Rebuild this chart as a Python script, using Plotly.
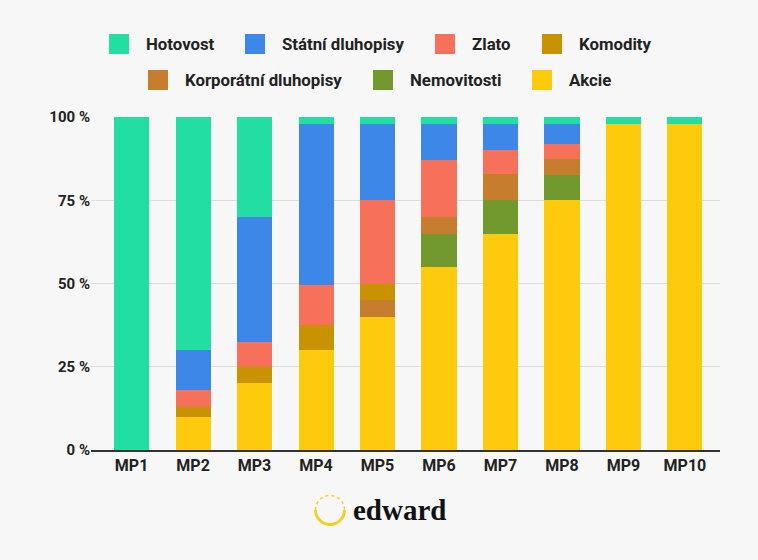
import plotly.graph_objects as go

categories = ["MP1", "MP2", "MP3", "MP4", "MP5", "MP6", "MP7", "MP8", "MP9", "MP10"]

akcie       = [0, 10, 20, 30, 40, 55, 65, 75, 98, 98]
nemovitosti = [0, 0, 0, 0, 0, 10, 10, 7.5, 0, 0]
korporatni  = [0, 0, 0, 0, 5, 5, 8, 5, 0, 0]
komodity    = [0, 3, 5, 7.5, 5, 0, 0, 0, 0, 0]
zlato       = [0, 5, 7.5, 12, 25, 17, 7, 4.5, 0, 0]
statni      = [0, 12, 37.5, 48.5, 23, 11, 8, 6, 0, 0]
hotovost    = [100, 70, 30, 2, 2, 2, 2, 2, 2, 2]

series_names = ["Akcie", "Nemovitosti", "Korporátní dluhopisy", "Komodity",
                "Zlato", "Státní dluhopisy", "Hotovost"]
series_values = [akcie, nemovitosti, korporatni, komodity, zlato, statni, hotovost]
series_colors = ["#fdca0c", "#72992e", "#c77d2e", "#c89200",
                 "#f6705a", "#3d87e8", "#22dea2"]

y_ticks = [0, 25, 50, 75, 100]
y_tick_labels = ["0 %", "25 %", "50 %", "75 %", "100 %"]

# figure geometry (pixels)
W, H = 758, 560
L, R, T, B = 91, 38, 117, 110
pw = W - L - R
ph = H - T - B

def px_x(p):
    return (p - L) / pw

def px_y(p):
    return (H - B - p) / ph

# legend swatch centres (pixels) for each series, same order as series_names
legend_swatch_x = [542, 383, 158, 552, 445, 255, 119]
legend_row_y = [80, 80, 80, 44, 44, 44, 44]

fig = go.Figure()
for name, vals, col in zip(series_names, series_values, series_colors):
    fig.add_trace(go.Bar(x=categories, y=vals, name=name, marker_color=col,
                         marker_line_width=0, showlegend=False))

font_leg = dict(family="Roboto", size=16.8, color="#222222", weight="bold")

legend_layouts = {}
for i, (name, col) in enumerate(zip(series_names, series_colors)):
    key = "legend" if i == 0 else f"legend{i + 1}"
    fig.add_trace(go.Scatter(x=[None], y=[None], mode="markers", name=name,
                             marker=dict(symbol="square", size=16, color=col,
                                         line=dict(color=col, width=4)),
                             legend=key, showlegend=True))
    legend_layouts[key] = dict(
        orientation="h", x=px_x(legend_swatch_x[i] - 27), y=px_y(legend_row_y[i]),
        xanchor="left", yanchor="middle", font=font_leg, itemwidth=44,
        bgcolor="rgba(0,0,0,0)", borderwidth=0)

fig.update_layout(
    width=W, height=H,
    margin=dict(l=L, r=R, t=T, b=B),
    paper_bgcolor="#f7f7f7",
    plot_bgcolor="#f7f7f7",
    barmode="stack",
    bargap=0.43,
    font=font_leg,
    xaxis=dict(range=[-0.66, 9.57], showline=True, linecolor="#333333", linewidth=1.5,
               tickfont=dict(family="Roboto", size=16, color="#222222", weight="bold"),
               showgrid=False, ticks=""),
    yaxis=dict(range=[0, 100], tickvals=y_ticks, ticktext=y_tick_labels,
               gridcolor="#dddddd", gridwidth=1, zeroline=False,
               tickfont=dict(family="Roboto", size=15, color="#222222", weight="bold"),
               ticks="", ticklen=0),
    showlegend=True,
    **legend_layouts,
)

# edward logo
cx, cy = px_x(330), px_y(510)
r = 14.5
k = 0.5523 * r
bottom = (f"M {-r},0 C {-r},{-k} {-k},{-r} 0,{-r} C {k},{-r} {r},{-k} {r},0")
top = (f"M {-r},0 C {-r},{k} {-k},{r} 0,{r} C {k},{r} {r},{k} {r},0")
fig.add_shape(type="path", xref="paper", yref="paper", xsizemode="pixel",
              ysizemode="pixel", xanchor=cx, yanchor=cy, path=bottom,
              line=dict(color="#f3cf2a", width=3))
fig.add_shape(type="path", xref="paper", yref="paper", xsizemode="pixel",
              ysizemode="pixel", xanchor=cx, yanchor=cy, path=top,
              line=dict(color="#f3cf2a", width=1.5, dash="dot"))
fig.add_annotation(text="<b>edward</b>", xref="paper", yref="paper",
                   x=px_x(351), y=px_y(510), xanchor="left", yanchor="middle",
                   showarrow=False,
                   font=dict(family="Liberation Serif", size=29, color="#111111"))

fig.write_html("out.html")
